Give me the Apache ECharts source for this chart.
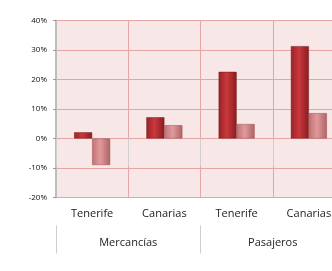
<!DOCTYPE html>
<html>
<head>
<meta charset="utf-8">
<script src="https://cdn.jsdelivr.net/npm/echarts@6/dist/echarts.min.js"></script>
<style>
html, body { margin: 0; padding: 0; background: #fff; }
#main { width: 332px; height: 271px; }
</style>
</head>
<body>
<div id="main"></div>
<script>
var categories = ['Tenerife', 'Canarias', 'Tenerife', 'Canarias'];
var groups = ['Mercancías', 'Pasajeros'];
var serieA = [2.1, 7.2, 22.6, 31.3];
var serieB = [-9.0, 4.5, 4.9, 8.6];

var chart = echarts.init(document.getElementById('main'));

function grad(c1, c2, c3) {
    return new echarts.graphic.LinearGradient(0, 0, 1, 0, [
        { offset: 0, color: c1 },
        { offset: 0.45, color: c2 },
        { offset: 1, color: c3 }
    ]);
}

var option = {
    animation: false,
    grid: {
        left: 56, top: 20.5, width: 289, bottom: 73.5,
        outerBoundsMode: 'none', containLabel: false,
        show: true, backgroundColor: '#f8e7e7', borderWidth: 0
    },
    xAxis: [{
        type: 'category',
        data: categories,
        position: 'bottom',
        axisLine: { show: false },
        axisTick: { show: true, length: 28, lineStyle: { color: '#cfcfcf' } },
        axisLabel: { color: '#222', fontSize: 11, margin: 11, fontFamily: 'Open Sans' },
        splitLine: { show: true, lineStyle: { color: '#e6a5a5', width: 1 } }
    }, {
        type: 'category',
        data: groups,
        position: 'bottom',
        offset: 28,
        axisLine: { show: false },
        axisTick: { show: true, length: 28, lineStyle: { color: '#cfcfcf' } },
        axisLabel: { color: '#222', fontSize: 11, margin: 12, fontFamily: 'Open Sans' }
    }],
    yAxis: {
        type: 'value',
        min: -20, max: 40, interval: 10,
        axisLine: { show: true, lineStyle: { color: '#bdbdbd', width: 2 } },
        axisTick: { show: true, length: 3, lineStyle: { color: '#999' } },
        axisLabel: { formatter: '{value}%', color: '#111', fontSize: 8, margin: 9, fontFamily: 'Open Sans' },
        splitLine: { lineStyle: { color: '#e6a5a5', width: 1 } }
    },
    series: [{
        type: 'bar',
        data: serieA,
        barWidth: 18,
        barGap: '0%',
        itemStyle: {
            color: grad('#9a2226', '#c9383c', '#8a1c20'),
            borderColor: '#7a1a1c', borderWidth: 0.5
        }
    }, {
        type: 'bar',
        data: serieB,
        barWidth: 18,
        itemStyle: {
            color: grad('#c47072', '#e09a9c', '#b06264'),
            borderColor: '#9a5052', borderWidth: 0.5
        }
    }]
};

chart.setOption(option);
</script>
</body>
</html>
